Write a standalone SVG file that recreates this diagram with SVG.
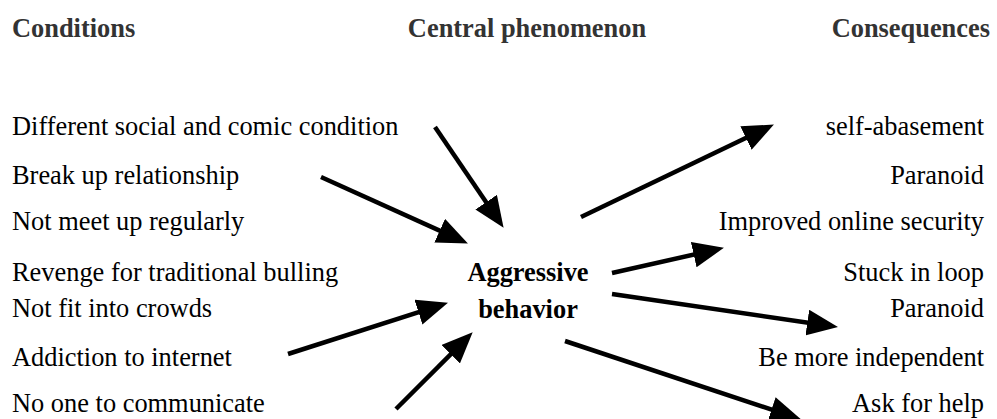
<svg xmlns="http://www.w3.org/2000/svg" width="997" height="419" viewBox="0 0 997 419">
<style>
text{font-family:"Liberation Serif","Times New Roman",serif;font-size:26.4px;fill:#000}
.h{font-weight:bold;fill:#333}
.b{font-weight:bold}
.r{text-anchor:end}
.c{text-anchor:middle}
.a{stroke:#000;stroke-width:4.5;fill:none;marker-end:url(#ah)}
</style>
<defs>
<marker id="ah" markerUnits="userSpaceOnUse" markerWidth="32" markerHeight="26" viewBox="0 0 32 26" refX="20" refY="13" orient="auto">
<path d="M0,0 L31,13 L0,26 z" fill="#000"/>
</marker>
</defs>
<rect width="997" height="419" fill="#fff"/>
<g id="headings">
<text class="h" x="12" y="37">Conditions</text>
<text class="h c" x="527" y="37">Central phenomenon</text>
<text class="h r" x="990" y="37">Consequences</text>
</g>
<g id="conditions">
<text x="12" y="135">Different social and comic condition</text>
<text x="12" y="184">Break up relationship</text>
<text x="12" y="230">Not meet up regularly</text>
<text x="12" y="281">Revenge for traditional bulling</text>
<text x="12" y="317">Not fit into crowds</text>
<text x="12" y="366">Addiction to internet</text>
<text x="12" y="412">No one to communicate</text>
</g>
<g id="central">
<text class="b c" x="528" y="281">Aggressive</text>
<text class="b c" x="528" y="318">behavior</text>
</g>
<g id="consequences">
<text class="r" x="984" y="135">self-abasement</text>
<text class="r" x="984" y="184">Paranoid</text>
<text class="r" x="984" y="230">Improved online security</text>
<text class="r" x="984" y="281">Stuck in loop</text>
<text class="r" x="984" y="317">Paranoid</text>
<text class="r" x="984" y="366">Be more independent</text>
<text class="r" x="984" y="412">Ask for help</text>
</g>
<g id="connectors">
<line class="a" x1="435" y1="127" x2="497.4" y2="218.7"/>
<line class="a" x1="321" y1="177" x2="457.9" y2="238.9"/>
<line class="a" x1="288" y1="354" x2="437.5" y2="306.1"/>
<line class="a" x1="396" y1="409" x2="464.9" y2="340.1"/>
<line class="a" x1="581" y1="217" x2="764" y2="129.3"/>
<line class="a" x1="612" y1="273" x2="713.2" y2="250.2"/>
<line class="a" x1="612" y1="294" x2="827.1" y2="325.5"/>
<line class="a" x1="565" y1="341" x2="790.5" y2="415.8"/>
</g>
</svg>
